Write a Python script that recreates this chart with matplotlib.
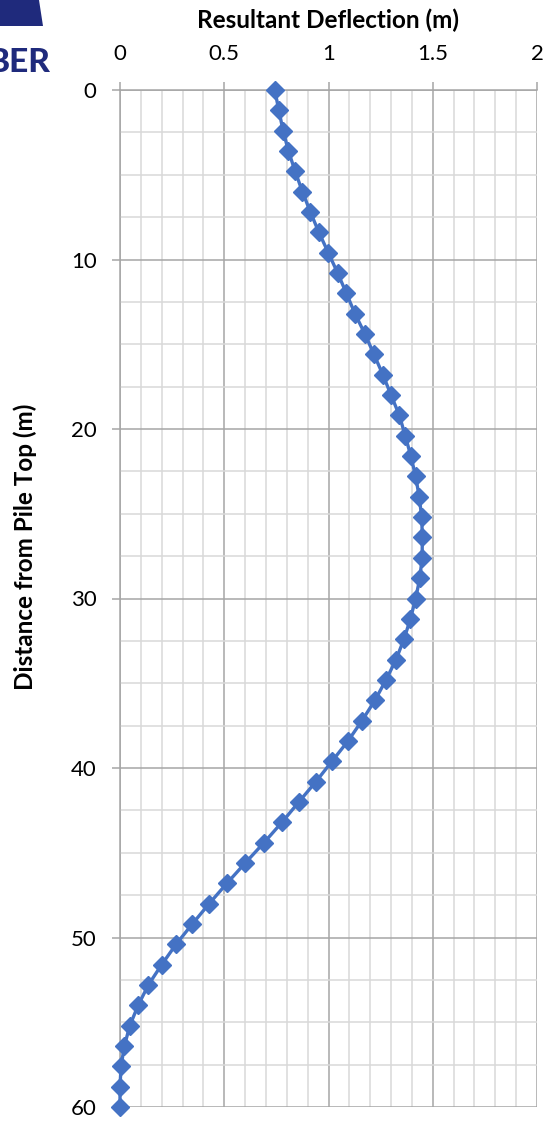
import matplotlib
matplotlib.use("Agg")
import matplotlib.pyplot as plt
from matplotlib.patches import Polygon
from matplotlib.ticker import MultipleLocator

depth = [0, 1.2, 2.4, 3.6, 4.8, 6.0, 7.2, 8.4, 9.6, 10.8,
         12.0, 13.2, 14.4, 15.6, 16.8, 18.0, 19.2, 20.4, 21.6, 22.8,
         24.0, 25.2, 26.4, 27.6, 28.8, 30.0, 31.2, 32.4, 33.6, 34.8,
         36.0, 37.2, 38.4, 39.6, 40.8, 42.0, 43.2, 44.4, 45.6, 46.8,
         48.0, 49.2, 50.4, 51.6, 52.8, 54.0, 55.2, 56.4, 57.6, 58.8, 60.0]
deflection = [0.742, 0.762, 0.782, 0.808, 0.840, 0.875, 0.913, 0.954, 0.999, 1.044,
              1.086, 1.127, 1.175, 1.218, 1.261, 1.300, 1.340, 1.368, 1.395, 1.418,
              1.435, 1.447, 1.450, 1.449, 1.438, 1.418, 1.393, 1.362, 1.324, 1.276,
              1.223, 1.161, 1.094, 1.017, 0.940, 0.858, 0.777, 0.691, 0.601, 0.513,
              0.428, 0.347, 0.269, 0.200, 0.136, 0.087, 0.047, 0.021, 0.005, 0.0, 0.0]

x_ticks = [0, 0.5, 1, 1.5, 2]
x_tick_labels = ["0", "0.5", "1", "1.5", "2"]
y_ticks = [0, 10, 20, 30, 40, 50, 60]

plt.rcParams['font.family'] = ['Lato', 'DejaVu Sans']

W, H = 546, 1121
fig = plt.figure(figsize=(W / 100, H / 100), dpi=100)
ax = fig.add_axes([120 / W, 14 / H, 417 / W, 1017 / H])

ax.set_xlim(0, 2)
ax.set_ylim(60, 0)
ax.xaxis.tick_top()
ax.set_xticks(x_ticks)
ax.set_xticklabels(x_tick_labels)
ax.set_yticks(y_ticks)
ax.xaxis.set_minor_locator(MultipleLocator(0.1))
ax.yaxis.set_minor_locator(MultipleLocator(2.5))

ax.grid(True, which='major', color='#a6a6a6', linewidth=1.1, zorder=0)
ax.grid(True, which='minor', color='#d9d9d9', linewidth=1.1, zorder=0)
ax.set_axisbelow(True)
for s in ['right', 'bottom']:
    ax.spines[s].set_visible(False)
for s in ['top', 'left']:
    ax.spines[s].set_color('#a6a6a6')
    ax.spines[s].set_linewidth(1.1)
ax.tick_params(which='major', length=5.8, color='#a6a6a6', width=1.1,
               labelsize=16, labelcolor='black')
ax.tick_params(axis='x', which='major', pad=13)
ax.tick_params(axis='y', which='major', pad=11)
ax.tick_params(which='minor', length=0)

ax.plot(deflection, depth, color='#4472C4', linewidth=2.4, marker='D',
        markersize=9, markerfacecolor='#4472C4', markeredgecolor='#4472C4',
        clip_on=False, zorder=3)

# axis titles
fig.text(328 / W, 1 - 28 / H, 'Resultant Deflection (m)', fontsize=17.5,
         fontweight='bold', ha='center', va='baseline')
fig.text(25 / W, 1 - 547 / H, 'Distance from Pile Top (m)', fontsize=17.5,
         fontweight='bold', ha='center', va='center', rotation=90)

# partial logo at top-left (cropped in the reference)
fig.patches.append(Polygon([[0, H], [39, H], [43, H - 26], [0, H - 26]],
                           closed=True, transform=None, facecolor='#1f2a7c',
                           edgecolor='none'))
fig.text(50 / W, 1 - 72 / H, 'BER', fontsize=24, fontweight='black',
         color='#1f2a7c', ha='right', va='baseline')

fig.savefig('out.png', dpi=100)
